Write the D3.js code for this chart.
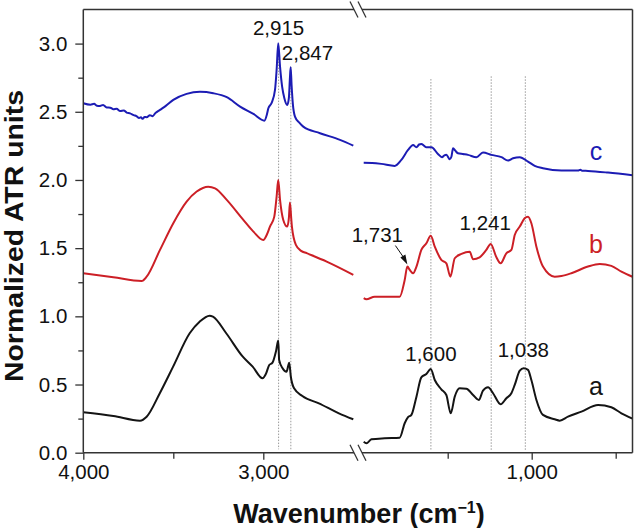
<!DOCTYPE html>
<html><head><meta charset="utf-8">
<script src="https://cdn.jsdelivr.net/npm/d3@7"></script>
<style>
html,body{margin:0;padding:0;background:#fff;}
svg{display:block;font-family:"Liberation Sans",Arial,sans-serif;}
</style></head>
<body><svg id="chart" width="635" height="528"></svg>
<script>
// ---- data (wavenumber cm-1, normalized ATR) ----
const seriesNames = ["a", "b", "c"];
const blackLeft = [[4000,0.296],[3833,0.269],[3685,0.235],[3648,0.264],[3575,0.436],[3501,0.631],[3409,0.876],[3354,0.961],[3298,1.005],[3280,0.998],[3206,0.876],[3114,0.704],[3059,0.631],[3004,0.546],[2985,0.58],[2967,0.643],[2949,0.660],[2930,0.741],[2917,0.822],[2912,0.680],[2893,0.619],[2871,0.594],[2856,0.660],[2847,0.557],[2829,0.472],[2783,0.416],[2691,0.362],[2580,0.289],[2500,0.245]];
const blackRight = [[2000,0.08],[1984,0.069],[1954,0.098],[1875,0.106],[1786,0.110],[1756,0.216],[1736,0.260],[1716,0.277],[1686,0.411],[1657,0.553],[1627,0.577],[1601,0.614],[1577,0.533],[1538,0.465],[1508,0.423],[1482,0.289],[1458,0.411],[1429,0.472],[1389,0.469],[1349,0.423],[1315,0.387],[1290,0.455],[1260,0.480],[1230,0.436],[1185,0.355],[1151,0.399],[1121,0.436],[1101,0.497],[1071,0.601],[1048,0.619],[1022,0.607],[1002,0.533],[972,0.387],[933,0.277],[863,0.245],[833,0.235],[784,0.264],[704,0.301],[605,0.350],[526,0.333],[466,0.289],[400,0.25]];
const redLeft = [[4000,1.316],[3833,1.287],[3676,1.259],[3648,1.291],[3574,1.487],[3500,1.683],[3426,1.841],[3370,1.915],[3306,1.951],[3268,1.939],[3203,1.854],[3111,1.707],[3055,1.621],[3000,1.560],[2980,1.60],[2963,1.658],[2939,1.731],[2926,1.878],[2917,2.000],[2907,1.854],[2889,1.707],[2867,1.658],[2858,1.72],[2852,1.834],[2845,1.72],[2841,1.658],[2819,1.524],[2790,1.48],[2759,1.463],[2648,1.401],[2500,1.304]];
const redRight = [[2000,1.133],[1984,1.125],[1935,1.144],[1855,1.144],[1786,1.144],[1756,1.267],[1740,1.365],[1726,1.340],[1706,1.316],[1686,1.365],[1657,1.487],[1627,1.536],[1601,1.590],[1577,1.511],[1538,1.414],[1508,1.389],[1484,1.291],[1458,1.426],[1418,1.458],[1369,1.474],[1349,1.419],[1310,1.433],[1270,1.487],[1244,1.531],[1210,1.433],[1185,1.389],[1151,1.462],[1121,1.487],[1101,1.597],[1071,1.658],[1042,1.719],[1022,1.731],[1002,1.683],[972,1.511],[933,1.365],[863,1.291],[823,1.296],[764,1.316],[665,1.365],[595,1.384],[526,1.370],[466,1.328],[400,1.29]];
const blueLeft = [[4000,2.563],[3960,2.552],[3940,2.558],[3925,2.545],[3907,2.543],[3890,2.550],[3870,2.532],[3850,2.530],[3833,2.519],[3815,2.522],[3795,2.505],[3775,2.510],[3759,2.494],[3740,2.488],[3720,2.475],[3705,2.468],[3690,2.455],[3680,2.46],[3670,2.448],[3660,2.462],[3648,2.46],[3630,2.475],[3615,2.468],[3600,2.49],[3574,2.514],[3540,2.545],[3500,2.587],[3426,2.631],[3352,2.646],[3278,2.636],[3203,2.607],[3129,2.538],[3055,2.484],[2994,2.435],[2980,2.48],[2972,2.526],[2953,2.567],[2935,2.660],[2926,2.807],[2917,3.003],[2907,2.831],[2895,2.68],[2883,2.60],[2867,2.550],[2858,2.60],[2852,2.75],[2848,2.827],[2843,2.70],[2836,2.56],[2824,2.465],[2800,2.42],[2778,2.391],[2685,2.343],[2574,2.294],[2500,2.252]];
const blueRight = [[2000,2.127],[1950,2.125],[1895,2.118],[1815,2.103],[1776,2.147],[1736,2.220],[1706,2.257],[1686,2.240],[1670,2.26],[1657,2.264],[1640,2.25],[1627,2.240],[1597,2.240],[1558,2.191],[1534,2.167],[1520,2.18],[1508,2.184],[1488,2.152],[1478,2.17],[1468,2.233],[1455,2.215],[1439,2.196],[1410,2.19],[1379,2.184],[1329,2.167],[1290,2.201],[1240,2.184],[1180,2.167],[1141,2.142],[1111,2.159],[1071,2.167],[1022,2.135],[982,2.103],[933,2.086],[823,2.069],[724,2.069],[710,2.075],[700,2.068],[665,2.066],[546,2.054],[400,2.035]];
const leftMarks = [2915, 2847];
const rightMarks = [1600, 1241, 1038];
const yTicks = [0, 0.5, 1.0, 1.5, 2.0, 2.5, 3.0];
const yMinor = [0.25, 0.75, 1.25, 1.75, 2.25, 2.75];
const xLeftTicks = [4000, 3000];
const xLeftMinor = [3500];
const xRightTicks = [1000];
const xRightMinor = [1500, 500];

// ---- layout ----
const svg = d3.select("#chart");
const pTop = 9.5, pBottom = 452.7, pLeft = 83.3, pRight = 632.5;
const xL = d3.scaleLinear().domain([4000, 2500]).range([pLeft, 353.3]);
const xR = d3.scaleLinear().domain([2000, 400]).range([363.7, pRight]);
const y = d3.scaleLinear().domain([0, 3.25]).range([pBottom, pTop]);
const colors = {black: "#141414", red: "#cc1f26", blue: "#1c1cb4"};
const axisCol = "#333";
const fontTick = 20.5;

svg.append("defs").append("clipPath").attr("id","clipR")
  .append("rect").attr("x",360).attr("y",pTop).attr("width",pRight-360).attr("height",pBottom-pTop);

// dotted reference lines
const dotG = svg.append("g").attr("stroke","#9a9a9a").attr("stroke-width",1).attr("stroke-dasharray","1.5,1.5");
dotG.selectAll("line.l").data(leftMarks).join("line")
  .attr("x1",d=>xL(d)).attr("x2",d=>xL(d))
  .attr("y1",(d,i)=> i===0 ? y(3.0) : y(2.83)).attr("y2",y(0.025));
dotG.selectAll("line.r").data(rightMarks).join("line")
  .attr("x1",d=>xR(d)).attr("x2",d=>xR(d))
  .attr("y1",(d,i)=> i===0 ? y(2.74) : y(2.76)).attr("y2",y(0.02));

// spectra
const lineL = d3.line().x(d=>xL(d[0])).y(d=>y(d[1])).curve(d3.curveMonotoneX);
const lineR = d3.line().x(d=>xR(d[0])).y(d=>y(d[1])).curve(d3.curveMonotoneX);
const specs = [
  [blackLeft, blackRight, colors.black],
  [redLeft, redRight, colors.red],
  [blueLeft, blueRight, colors.blue]
];
specs.forEach(([l, r, c]) => {
  svg.append("path").attr("d", lineL(l)).attr("fill","none").attr("stroke",c).attr("stroke-width",2).attr("stroke-linejoin","round");
  svg.append("path").attr("d", lineR(r)).attr("fill","none").attr("stroke",c).attr("stroke-width",2).attr("stroke-linejoin","round").attr("clip-path","url(#clipR)");
});

// axes
const yAxis = d3.axisLeft(y).tickValues(yTicks).tickFormat(d3.format(".1f")).tickSize(8).tickPadding(8);
svg.append("g").attr("transform",`translate(${pLeft},0)`).call(yAxis);
const yAxisMinor = d3.axisLeft(y).tickValues(yMinor).tickFormat("").tickSize(5);
svg.append("g").attr("transform",`translate(${pLeft},0)`).call(yAxisMinor);

const xAxL = d3.axisBottom(xL).tickValues(xLeftTicks).tickFormat(d3.format(",")).tickSize(7).tickPadding(5);
const xAxLm = d3.axisBottom(xL).tickValues(xLeftMinor).tickFormat("").tickSize(6);
const xAxR = d3.axisBottom(xR).tickValues(xRightTicks).tickFormat(d3.format(",")).tickSize(7).tickPadding(5);
const xAxRm = d3.axisBottom(xR).tickValues(xRightMinor).tickFormat("").tickSize(6);
[xAxL, xAxLm, xAxR, xAxRm].forEach(a => svg.append("g").attr("transform",`translate(0,${pBottom})`).call(a));

svg.selectAll(".domain").remove();
svg.selectAll(".tick line").attr("stroke",axisCol).attr("stroke-width",1.3);
svg.selectAll(".tick text").attr("font-size",fontTick).attr("fill","#111").attr("font-family","Liberation Sans, Arial, sans-serif");

// frame with breaks
const frame = svg.append("g").attr("stroke",axisCol).attr("stroke-width",1.5).attr("fill","none");
const brk = 358;
frame.append("line").attr("x1",pLeft).attr("x2",pLeft).attr("y1",pTop).attr("y2",pBottom);
frame.append("line").attr("x1",pRight).attr("x2",pRight).attr("y1",pTop).attr("y2",pBottom);
[pTop, pBottom].forEach(yy => {
  frame.append("line").attr("x1",pLeft).attr("x2",brk-4).attr("y1",yy).attr("y2",yy);
  frame.append("line").attr("x1",brk+4).attr("x2",pRight).attr("y1",yy).attr("y2",yy);
  [-4, 4].forEach(o => {
    frame.append("line").attr("x1",brk+o-4).attr("y1",yy-8).attr("x2",brk+o+4).attr("y2",yy+8).attr("stroke-width",1.3);
  });
});

// peak annotations
const ann = svg.append("g").attr("font-size",20.5).attr("fill","#111");
ann.append("text").attr("x",xL(2915)).attr("y",y(3.003)-8).attr("text-anchor","middle").text("2,915");
ann.append("text").attr("x",xL(2847)-9).attr("y",y(2.827)-7).attr("text-anchor","start").text("2,847");
ann.append("text").attr("x",xR(1600)).attr("y",y(0.614)-8).attr("text-anchor","middle").text("1,600");
ann.append("text").attr("x",xR(1038)-2).attr("y",y(0.619)-11).attr("text-anchor","middle").text("1,038");
ann.append("text").attr("x",xR(1241)-6).attr("y",y(1.531)-14).attr("text-anchor","middle").text("1,241");
ann.append("text").attr("x",xR(1740)-30).attr("y",y(1.365)-25).attr("text-anchor","middle").text("1,731");

// arrow to 1,731
const tipX = xR(1740), tipY = y(1.365) - 2;
svg.append("line").attr("x1",tipX-12).attr("y1",tipY-19).attr("x2",tipX-3).attr("y2",tipY-6)
  .attr("stroke","#111").attr("stroke-width",1);
svg.append("path").attr("d",`M${tipX},${tipY} L${tipX-7},${tipY-7} L${tipX-2},${tipY-10} Z`).attr("fill","#111");

// series labels
const labG = svg.append("g").attr("font-size",25).attr("text-anchor","middle");
labG.append("text").attr("x",596).attr("y",395).attr("fill",colors.black).text(seriesNames[0]);
labG.append("text").attr("x",596).attr("y",252.7).attr("fill",colors.red).text(seriesNames[1]);
labG.append("text").attr("x",596).attr("y",160).attr("fill",colors.blue).text(seriesNames[2]);

// axis titles
const xt = svg.append("text").attr("x",359).attr("y",523).attr("text-anchor","middle")
  .attr("font-size",27).attr("font-weight","bold").attr("fill","#111");
xt.append("tspan").text("Wavenumber (cm");
xt.append("tspan").attr("font-size",16).attr("dy",-10).text("\u22121");
xt.append("tspan").attr("dy",10).text(")");

svg.append("text").attr("transform","translate(23,236) rotate(-90)").attr("text-anchor","middle")
  .attr("font-size",26).attr("font-weight","bold").attr("fill","#111")
  .attr("textLength",292).attr("lengthAdjust","spacingAndGlyphs")
  .text("Normalized ATR units");
</script></body></html>
